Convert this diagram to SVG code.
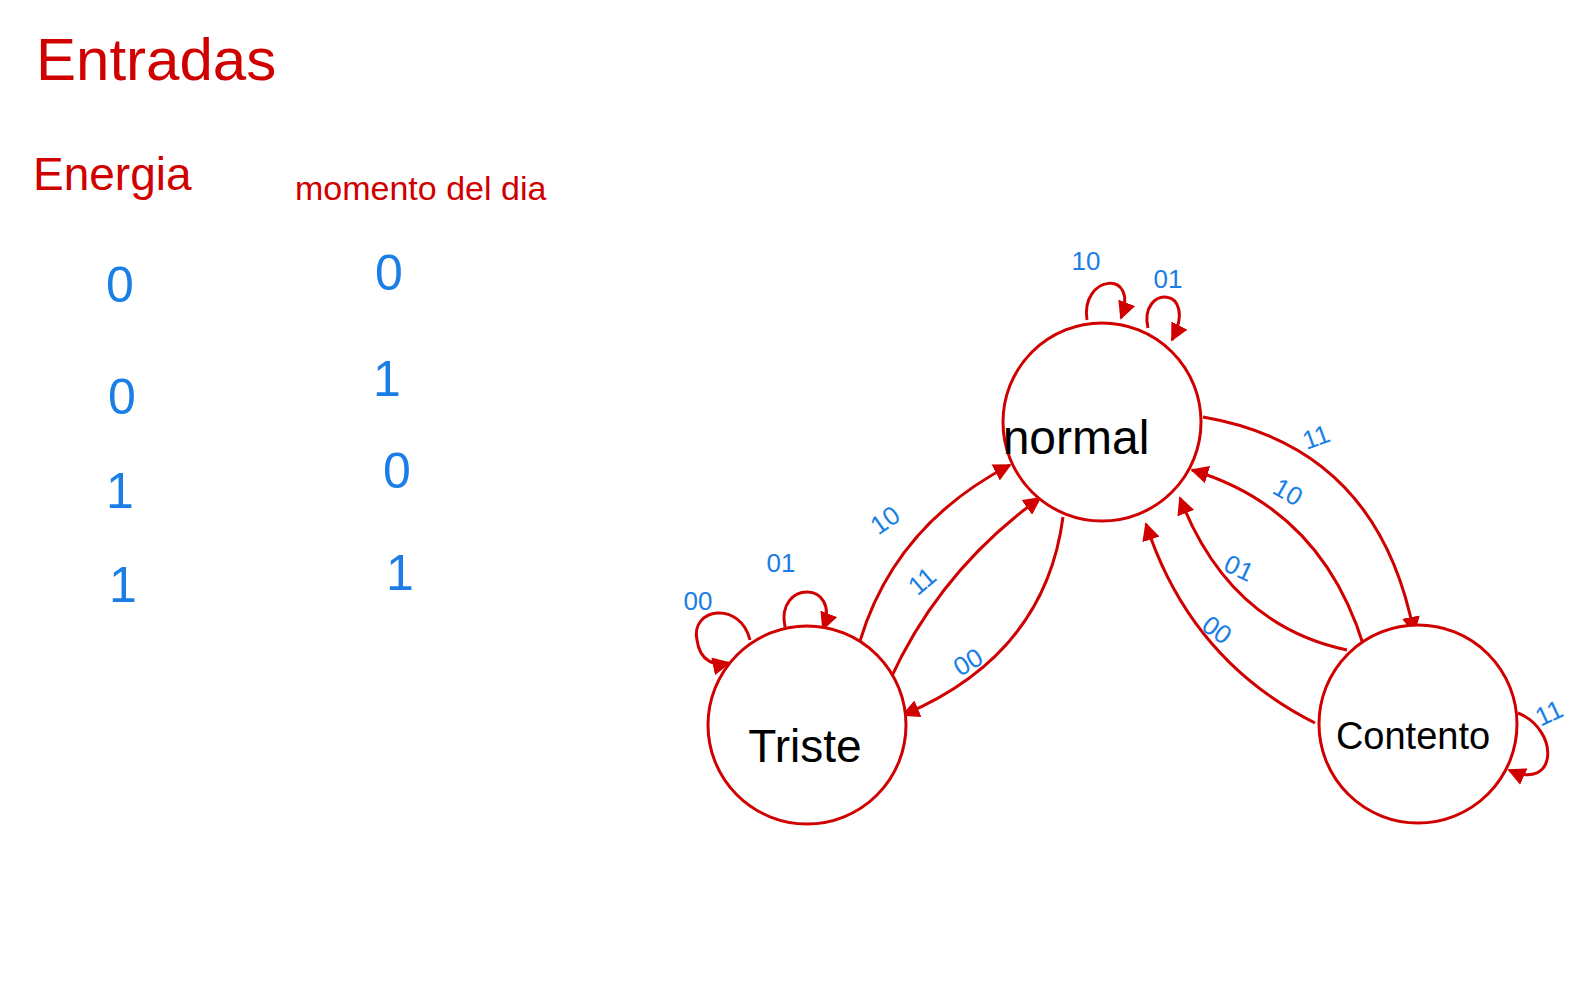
<svg xmlns="http://www.w3.org/2000/svg" width="1595" height="1003" viewBox="0 0 1595 1003">
<style>
.red{font-family:"Liberation Sans",Arial,sans-serif;fill:#d00000}
.blk{font-family:"Liberation Sans",Arial,sans-serif;fill:#000}
.blue{font-family:"Liberation Sans",Arial,sans-serif;fill:#1a7ee6}
.lbl{font-size:26px}
.dig{font-size:50px}
.node{fill:#fff;stroke:#d00000;stroke-width:3}
.edge{fill:none;stroke:#d00000;stroke-width:3;marker-end:url(#ah)}
</style>
<defs>
<marker id="ah" viewBox="0 0 10 10" refX="9" refY="5" markerWidth="6" markerHeight="6" markerUnits="strokeWidth" orient="auto">
<path d="M0,0 L10,5 L0,10 Z" fill="#d00000"/>
</marker>
</defs>
<rect width="1595" height="1003" fill="#fff"/>
<g id="table">
<text class="red" x="36" y="80" font-size="60">Entradas</text>
<text class="red" x="33" y="190" font-size="46">Energia</text>
<text class="red" x="295" y="200" font-size="34">momento del dia</text>
<text class="blue dig" x="120" y="302" text-anchor="middle">0</text>
<text class="blue dig" x="122" y="414" text-anchor="middle">0</text>
<text class="blue dig" x="120" y="508" text-anchor="middle">1</text>
<text class="blue dig" x="123" y="602" text-anchor="middle">1</text>
<text class="blue dig" x="389" y="290" text-anchor="middle">0</text>
<text class="blue dig" x="387" y="396" text-anchor="middle">1</text>
<text class="blue dig" x="397" y="488" text-anchor="middle">0</text>
<text class="blue dig" x="400" y="590" text-anchor="middle">1</text>
</g>
<g id="connectors">
<path class="edge" d="M860,641 Q895,525 1010,465"/>
<path class="edge" d="M890,680 Q940,570 1040,498"/>
<path class="edge" d="M1063,517 Q1045,655 903,715"/>
<path class="edge" d="M1203,417 Q1378,447 1414,633"/>
<path class="edge" d="M1364,647 Q1322,509 1192,470"/>
<path class="edge" d="M1347,650 Q1229,625 1180,498"/>
<path class="edge" d="M1315,723 Q1190,660 1146,524"/>
<path class="edge" d="M1087,320 C1080,275 1140,268 1121,318"/>
<path class="edge" d="M1148,328 C1138,285 1200,285 1172,340"/>
<path class="edge" d="M750,640 C740,600 690,608 697,640 C700,662 715,666 729,663"/>
<path class="edge" d="M785,627 C775,580 842,580 823,629"/>
<path class="edge" d="M1518,713 C1560,730 1558,792 1509,770"/>
<text class="blue lbl" x="1086" y="270" text-anchor="middle">10</text>
<text class="blue lbl" x="1168" y="288" text-anchor="middle">01</text>
<text class="blue lbl" x="1316" y="446" text-anchor="middle" transform="rotate(-20 1316 437)">11</text>
<text class="blue lbl" x="1288" y="501" text-anchor="middle" transform="rotate(30 1288 492)">10</text>
<text class="blue lbl" x="1239" y="577" text-anchor="middle" transform="rotate(25 1239 568)">01</text>
<text class="blue lbl" x="1217" y="639" text-anchor="middle" transform="rotate(35 1217 630)">00</text>
<text class="blue lbl" x="1549" y="722" text-anchor="middle" transform="rotate(-25 1549 713)">11</text>
<text class="blue lbl" x="885" y="529" text-anchor="middle" transform="rotate(-35 885 520)">10</text>
<text class="blue lbl" x="922" y="590" text-anchor="middle" transform="rotate(-40 922 581)">11</text>
<text class="blue lbl" x="968" y="671" text-anchor="middle" transform="rotate(-30 968 662)">00</text>
<text class="blue lbl" x="781" y="572" text-anchor="middle">01</text>
<text class="blue lbl" x="698" y="610" text-anchor="middle">00</text>
</g>
<g id="node-normal">
<circle class="node" cx="1102" cy="422" r="99"/>
<text class="blk" x="1076" y="454" font-size="48" text-anchor="middle">normal</text>
</g>
<g id="node-triste">
<circle class="node" cx="807" cy="725" r="99"/>
<text class="blk" x="805" y="762" font-size="46" text-anchor="middle">Triste</text>
</g>
<g id="node-contento">
<circle class="node" cx="1418" cy="724" r="99"/>
<text class="blk" x="1413" y="749" font-size="38" text-anchor="middle">Contento</text>
</g>
</svg>
